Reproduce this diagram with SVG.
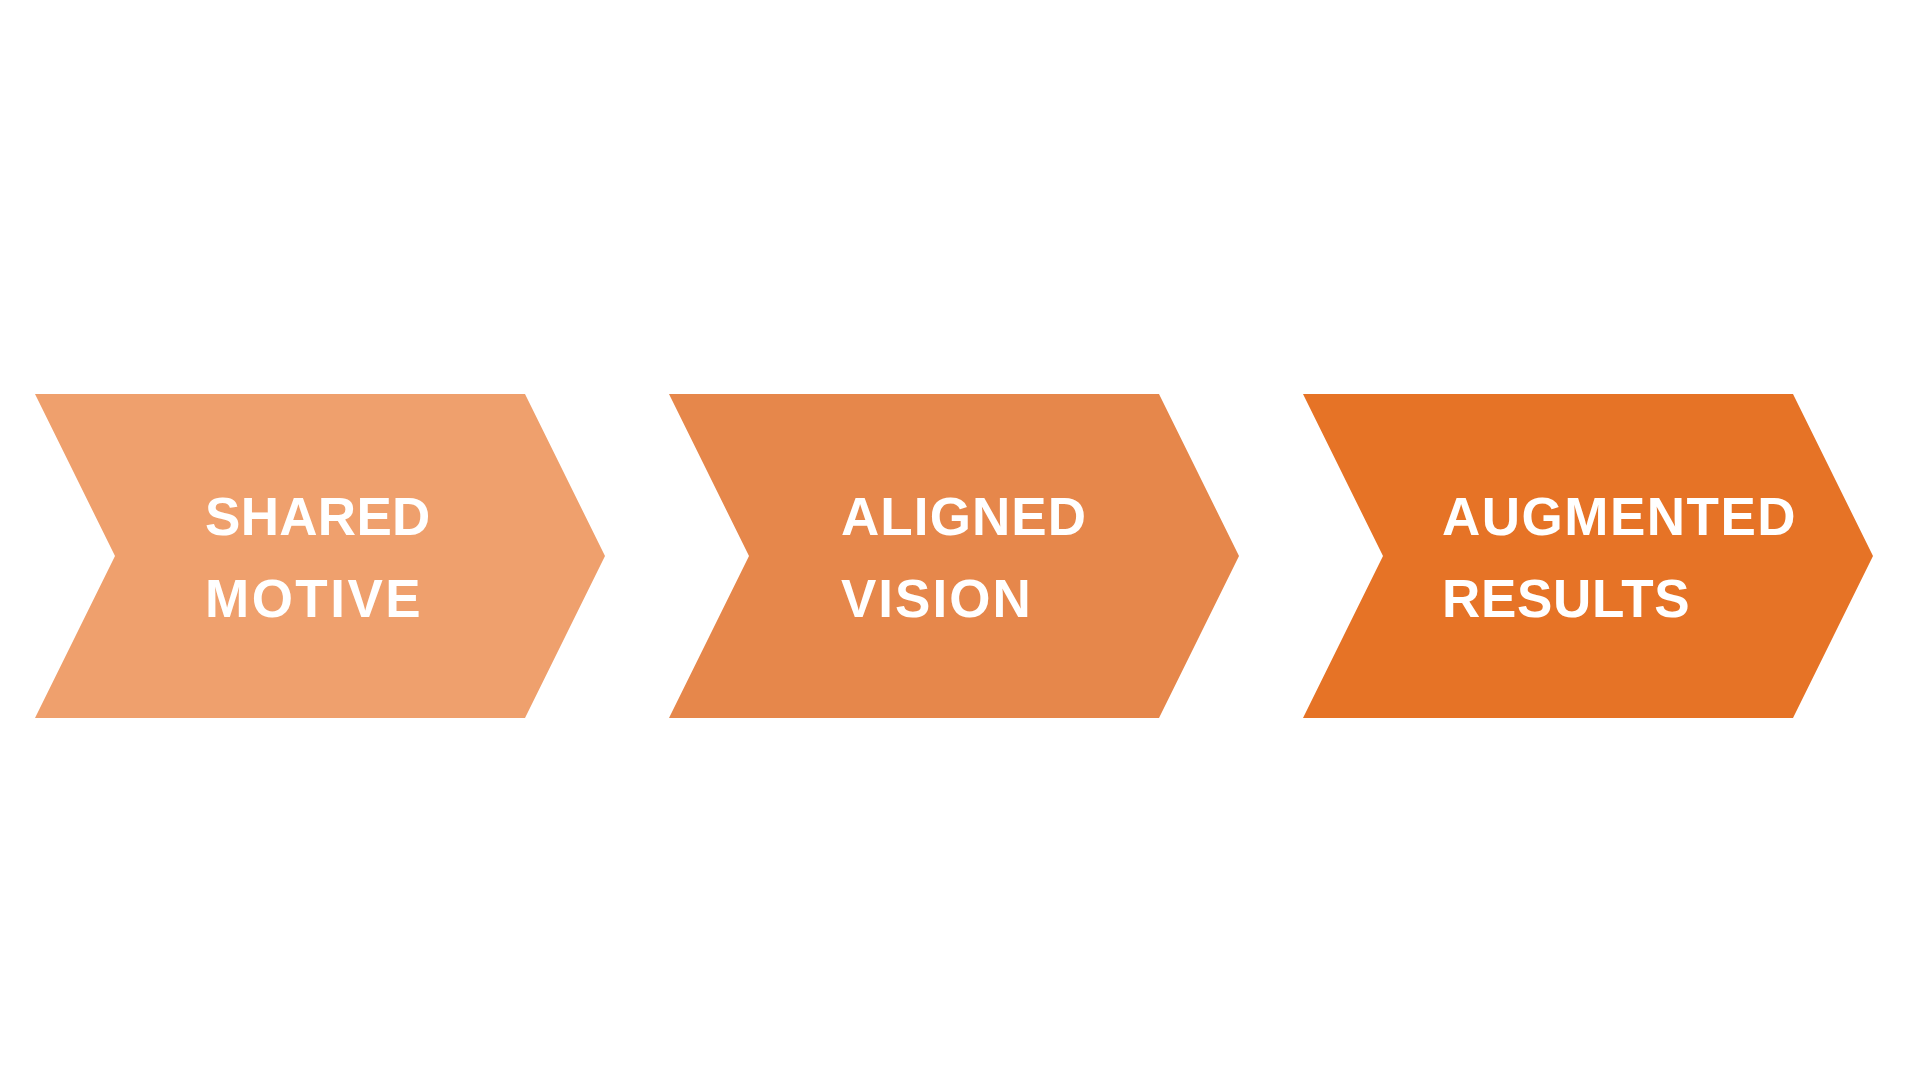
<svg xmlns="http://www.w3.org/2000/svg" width="1920" height="1080" viewBox="0 0 1920 1080">
  <style>
    .lbl { font-family: "Liberation Sans", Arial, sans-serif; font-weight: bold; font-size: 53px; letter-spacing: 1.5px; fill: #FFFFFF; }
  </style>
  <rect x="0" y="0" width="1920" height="1080" fill="#FFFFFF"/>
  <g id="connectors"/>
  <g id="node-shared-motive">
    <polygon points="35,394 525,394 605,556 525,718 35,718 115,556" fill="#EFA06D"/>
    <text class="lbl" x="205" y="535" style="letter-spacing:0.3px">SHARED</text>
    <text class="lbl" x="205" y="617" style="letter-spacing:2.5px">MOTIVE</text>
  </g>
  <g id="node-aligned-vision">
    <polygon points="669,394 1159,394 1239,556 1159,718 669,718 749,556" fill="#E6874B"/>
    <text class="lbl" x="841" y="535" style="letter-spacing:1.1px">ALIGNED</text>
    <text class="lbl" x="841" y="617" style="letter-spacing:2px">VISION</text>
  </g>
  <g id="node-augmented-results">
    <polygon points="1303,394 1793,394 1873,556 1793,718 1303,718 1383,556" fill="#E67326"/>
    <text class="lbl" x="1442" y="535">AUGMENTED</text>
    <text class="lbl" x="1442" y="617" style="letter-spacing:0.7px">RESULTS</text>
  </g>
</svg>
